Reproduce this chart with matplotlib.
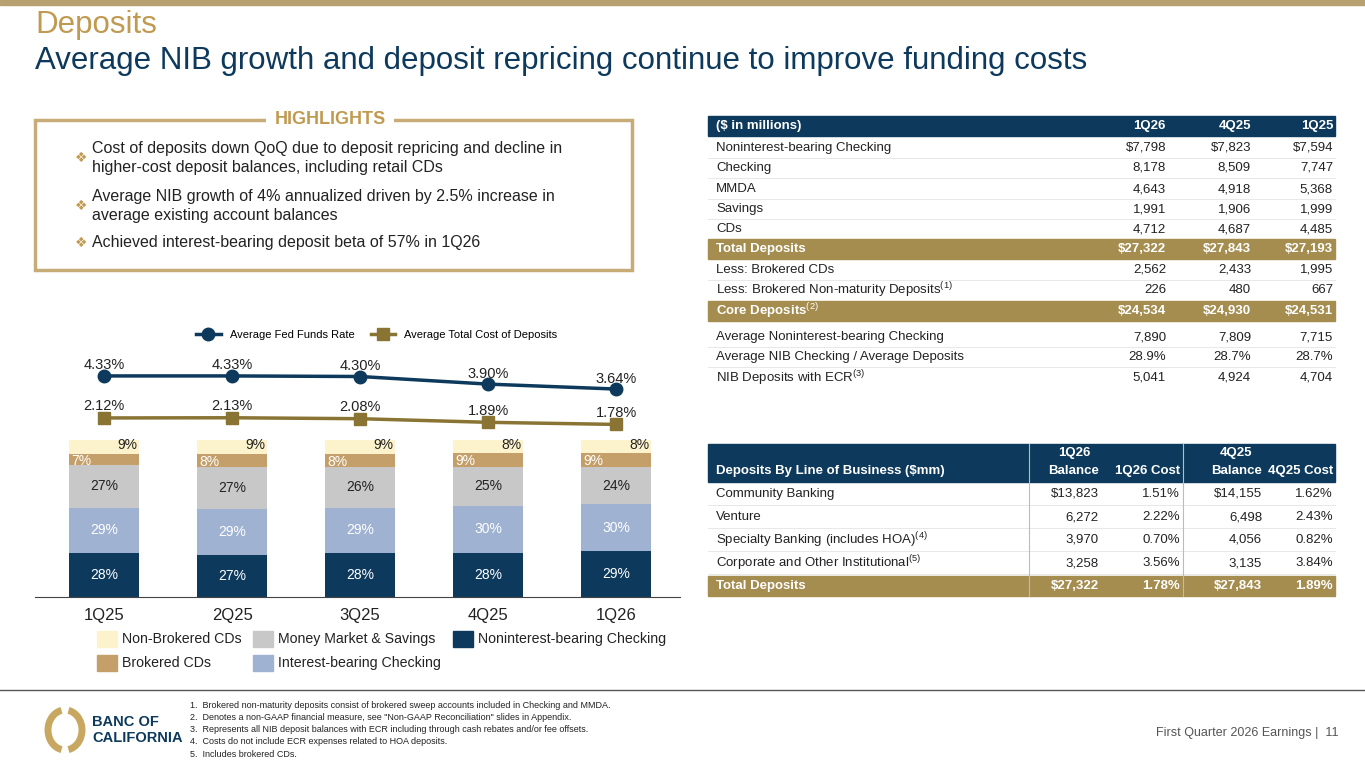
import matplotlib
matplotlib.use("Agg")
import matplotlib.pyplot as plt
from matplotlib.patches import Rectangle, Arc

plt.rcParams['font.family'] = ['Liberation Sans', 'DejaVu Sans']
plt.rcParams['mathtext.fontset'] = 'custom'
plt.rcParams['mathtext.rm'] = 'Liberation Sans'

NAVY = '#0d3a5c'; GOLD = '#c09a50'; DARKGOLD = '#8a7434'; TXT = '#222222'

quarters = ['1Q25', '2Q25', '3Q25', '4Q25', '1Q26']
fed_funds = [4.33, 4.33, 4.30, 3.90, 3.64]
cost_deposits = [2.12, 2.13, 2.08, 1.89, 1.78]
nib_checking = [28, 27, 28, 28, 29]
ib_checking = [29, 29, 29, 30, 30]
mm_savings = [27, 27, 26, 25, 24]
brokered_cds = [7, 8, 8, 9, 9]
nonbrokered_cds = [9, 9, 9, 8, 8]

highlights = ["Cost of deposits down QoQ due to deposit repricing and decline in\nhigher-cost deposit balances, including retail CDs",
              "Average NIB growth of 4% annualized driven by 2.5% increase in\naverage existing account balances",
              "Achieved interest-bearing deposit beta of 57% in 1Q26"]

t1_cols = ['1Q26', '4Q25', '1Q25']
t1_rows = [
    ('Noninterest-bearing Checking', ['$7,798', '$7,823', '$7,594'], ''),
    ('Checking', ['8,178', '8,509', '7,747'], ''),
    ('MMDA', ['4,643', '4,918', '5,368'], ''),
    ('Savings', ['1,991', '1,906', '1,999'], ''),
    ('CDs', ['4,712', '4,687', '4,485'], ''),
    ('Total Deposits', ['$27,322', '$27,843', '$27,193'], 'gold'),
    ('Less: Brokered CDs', ['2,562', '2,433', '1,995'], ''),
    ('Less: Brokered Non-maturity Deposits$^{(1)}$', ['226', '480', '667'], ''),
    ('Core Deposits$^{(2)}$', ['$24,534', '$24,930', '$24,531'], 'gold'),
    ('Average Noninterest-bearing Checking', ['7,890', '7,809', '7,715'], ''),
    ('Average NIB Checking / Average Deposits', ['28.9%', '28.7%', '28.7%'], ''),
    ('NIB Deposits with ECR$^{(3)}$', ['5,041', '4,924', '4,704'], ''),
]
t1_y = [148, 168, 189, 209, 229, 249, 270, 290, 311, 337, 357, 378]

t2_rows = [
    ('Community Banking', ['$13,823', '1.51%', '$14,155', '1.62%']),
    ('Venture', ['6,272', '2.22%', '6,498', '2.43%']),
    ('Specialty Banking (includes HOA)$^{(4)}$', ['3,970', '0.70%', '4,056', '0.82%']),
    ('Corporate and Other Institutional$^{(5)}$', ['3,258', '3.56%', '3,135', '3.84%']),
    ('Total Deposits', ['$27,322', '1.78%', '$27,843', '1.89%']),
]
t2_y = [494, 517, 540, 563, 586]

fig = plt.figure(figsize=(13.65, 7.68), dpi=100)
W, H = 1365, 768
def px_axes(x0, y0, x1, y1):
    return fig.add_axes([x0 / W, 1 - y1 / H, (x1 - x0) / W, (y1 - y0) / H])

ov = fig.add_axes([0, 0, 1, 1]); ov.set_xlim(0, W); ov.set_ylim(H, 0); ov.axis('off')
ov.add_patch(Rectangle((0, 0), W, 5, color='#b9a070'))
ov.text(35, 25, 'Deposits', fontsize=22.5, color=GOLD, va='center')
ov.text(35, 61, 'Average NIB growth and deposit repricing continue to improve funding costs', fontsize=22.5, color=NAVY, va='center')

# highlights box
ov.add_patch(Rectangle((35, 120), 597, 150, fill=False, ec='#c8ac78', lw=2.5))
ov.text(330, 120, 'HIGHLIGHTS', fontsize=13, color=GOLD, weight='bold', ha='center', va='center',
        bbox=dict(fc='white', ec='none', pad=6))
for txt, y in zip(highlights, [158, 206, 243]):
    ov.text(75, y, '❖', fontsize=10, color=GOLD, va='center', family=['DejaVu Sans'])
    ov.text(92, y, txt, fontsize=11.5, color=TXT, va='center', linespacing=1.4)

# bar chart
bx = px_axes(35, 440, 680, 597)
x = list(range(len(quarters)))
bottoms = [0] * 5
segs = [(nib_checking, NAVY, 'white'), (ib_checking, '#9fb2d1', 'white'), (mm_savings, '#c8c8c8', TXT),
        (brokered_cds, '#c49f69', 'white'), (nonbrokered_cds, '#fcf2cc', TXT)]
for vals, col, tc in segs:
    bx.bar(x, vals, bottom=bottoms, width=0.55, color=col)
    for i, v in enumerate(vals):
        if col == '#c49f69':
            bx.text(i - 0.18, bottoms[i] + v / 2 - 1, f'{v}%', ha='center', va='center', color='white', fontsize=10)
        elif col == '#fcf2cc':
            bx.text(i + 0.18, bottoms[i] + v / 2 + 1, f'{v}%', ha='center', va='center', color=TXT, fontsize=10)
        else:
            bx.text(i, bottoms[i] + v / 2, f'{v}%', ha='center', va='center', color=tc, fontsize=10)
    bottoms = [b + v for b, v in zip(bottoms, vals)]
bx.set_xlim(-0.54, 4.5); bx.set_ylim(0, 100)
for s in ['top', 'right', 'left']: bx.spines[s].set_visible(False)
bx.spines['bottom'].set_color('#444444')
bx.set_yticks([]); bx.set_xticks(x); bx.set_xticklabels(quarters, fontsize=12, color=TXT)
bx.tick_params(axis='x', length=0, pad=8)

lx = px_axes(35, 340, 680, 440)
lx.plot(x, fed_funds, color=NAVY, lw=2.5, marker='o', ms=9, label='Average Fed Funds Rate')
lx.plot(x, cost_deposits, color=DARKGOLD, lw=2.5, marker='s', ms=9, label='Average Total Cost of Deposits')
for i in x:
    lx.text(i, fed_funds[i] + 0.55, f'{fed_funds[i]:.2f}%', ha='center', va='center', fontsize=10.5, color=TXT)
    lx.text(i, cost_deposits[i] + 0.62, f'{cost_deposits[i]:.2f}%', ha='center', va='center', fontsize=10.5, color=TXT)
lx.set_xlim(-0.54, 4.5); lx.set_ylim(0.96, 6.22); lx.axis('off')
lx.legend(loc='center', bbox_to_anchor=(0.53, 1.05), ncol=2, frameon=False, fontsize=8, handlelength=2.2, columnspacing=1.5)

# legend below
leg = [('Non-Brokered CDs', '#fcf2cc', 97, 639), ('Money Market & Savings', '#c8c8c8', 253, 639),
       ('Noninterest-bearing Checking', NAVY, 453, 639), ('Brokered CDs', '#c49f69', 97, 663),
       ('Interest-bearing Checking', '#9fb2d1', 253, 663)]
for lab, col, xx, yy in leg:
    ov.add_patch(Rectangle((xx, yy - 8), 20, 16, color=col))
    ov.text(xx + 25, yy, lab, fontsize=10.2, color=TXT, va='center')

# table 1
c1 = [1166, 1251, 1333]
ov.add_patch(Rectangle((708, 116), 627, 20, color=NAVY))
ov.text(716, 126, '($ in millions)', fontsize=9.5, weight='bold', color='white', va='center')
for c, h in zip(c1, t1_cols):
    ov.text(c, 126, h, fontsize=9.5, weight='bold', color='white', va='center', ha='right')
for (lab, vals, st), y in zip(t1_rows, t1_y):
    col = TXT
    if st == 'gold':
        ov.add_patch(Rectangle((708, y - 10), 627, 20, color='#a58d50'))
        col = 'white'
    w = 'bold' if st else 'normal'
    ov.text(716, y, lab, fontsize=9.5, color=col, weight=w, va='center')
    for c, v in zip(c1, vals):
        ov.text(c, y, v, fontsize=9.5, color=col, weight=w, va='center', ha='right')
    if st == '' and y not in (229, 290, 378):
        ov.plot([708, 1335], [y + 10, y + 10], color='#e4e4e4', lw=0.6)

# table 2
c2 = [1099, 1180, 1262, 1333]
ov.add_patch(Rectangle((708, 444), 627, 38, color=NAVY))
ov.text(716, 471, 'Deposits By Line of Business ($mm)', fontsize=9.5, weight='bold', color='white', va='center')
for c, h2 in zip(c2, ['Balance', '1Q26 Cost', 'Balance', '4Q25 Cost']):
    ov.text(c, 471, h2, fontsize=9.5, weight='bold', color='white', va='center', ha='right')
ov.text(1074, 453, '1Q26', fontsize=9.5, weight='bold', color='white', va='center', ha='center')
ov.text(1236, 453, '4Q25', fontsize=9.5, weight='bold', color='white', va='center', ha='center')
for i, ((lab, vals), y) in enumerate(zip(t2_rows, t2_y)):
    last = i == len(t2_rows) - 1
    col = TXT
    if last:
        ov.add_patch(Rectangle((708, y - 10), 627, 20, color='#a58d50'))
        col = 'white'
    w = 'bold' if last else 'normal'
    ov.text(716, y, lab, fontsize=9.5, color=col, weight=w, va='center')
    for c, v in zip(c2, vals):
        ov.text(c, y, v, fontsize=9.5, color=col, weight=w, va='center', ha='right')
    if not last:
        ov.plot([708, 1335], [y + 11, y + 11], color='#e4e4e4', lw=0.6)
for xv in (1029, 1183):
    ov.plot([xv, xv], [444, 596], color='#bbbbbb', lw=0.8)

# footer
ov.plot([0, W], [690, 690], color='#555555', lw=1.0)
ov.add_patch(Arc((65, 730), 34, 40, theta1=100, theta2=260, color='#c8a860', lw=5))
ov.add_patch(Arc((65, 730), 34, 40, theta1=-80, theta2=80, color='#c8a860', lw=5))
ov.text(92, 730, 'BANC OF\nCALIFORNIA', fontsize=10.5, weight='bold', color=NAVY, va='center', linespacing=1.2)
notes = ['1.  Brokered non-maturity deposits consist of brokered sweep accounts included in Checking and MMDA.',
         '2.  Denotes a non-GAAP financial measure, see "Non-GAAP Reconciliation" slides in Appendix.',
         '3.  Represents all NIB deposit balances with ECR including through cash rebates and/or fee offsets.',
         '4.  Costs do not include ECR expenses related to HOA deposits.',
         '5.  Includes brokered CDs.']
for i, n in enumerate(notes):
    ov.text(190, 705 + i * 12.3, n, fontsize=6.5, color=TXT, va='center')
ov.text(1338, 733, 'First Quarter 2026 Earnings |  11', fontsize=9, color='#555555', va='center', ha='right')

fig.savefig('out.png', dpi=100)
